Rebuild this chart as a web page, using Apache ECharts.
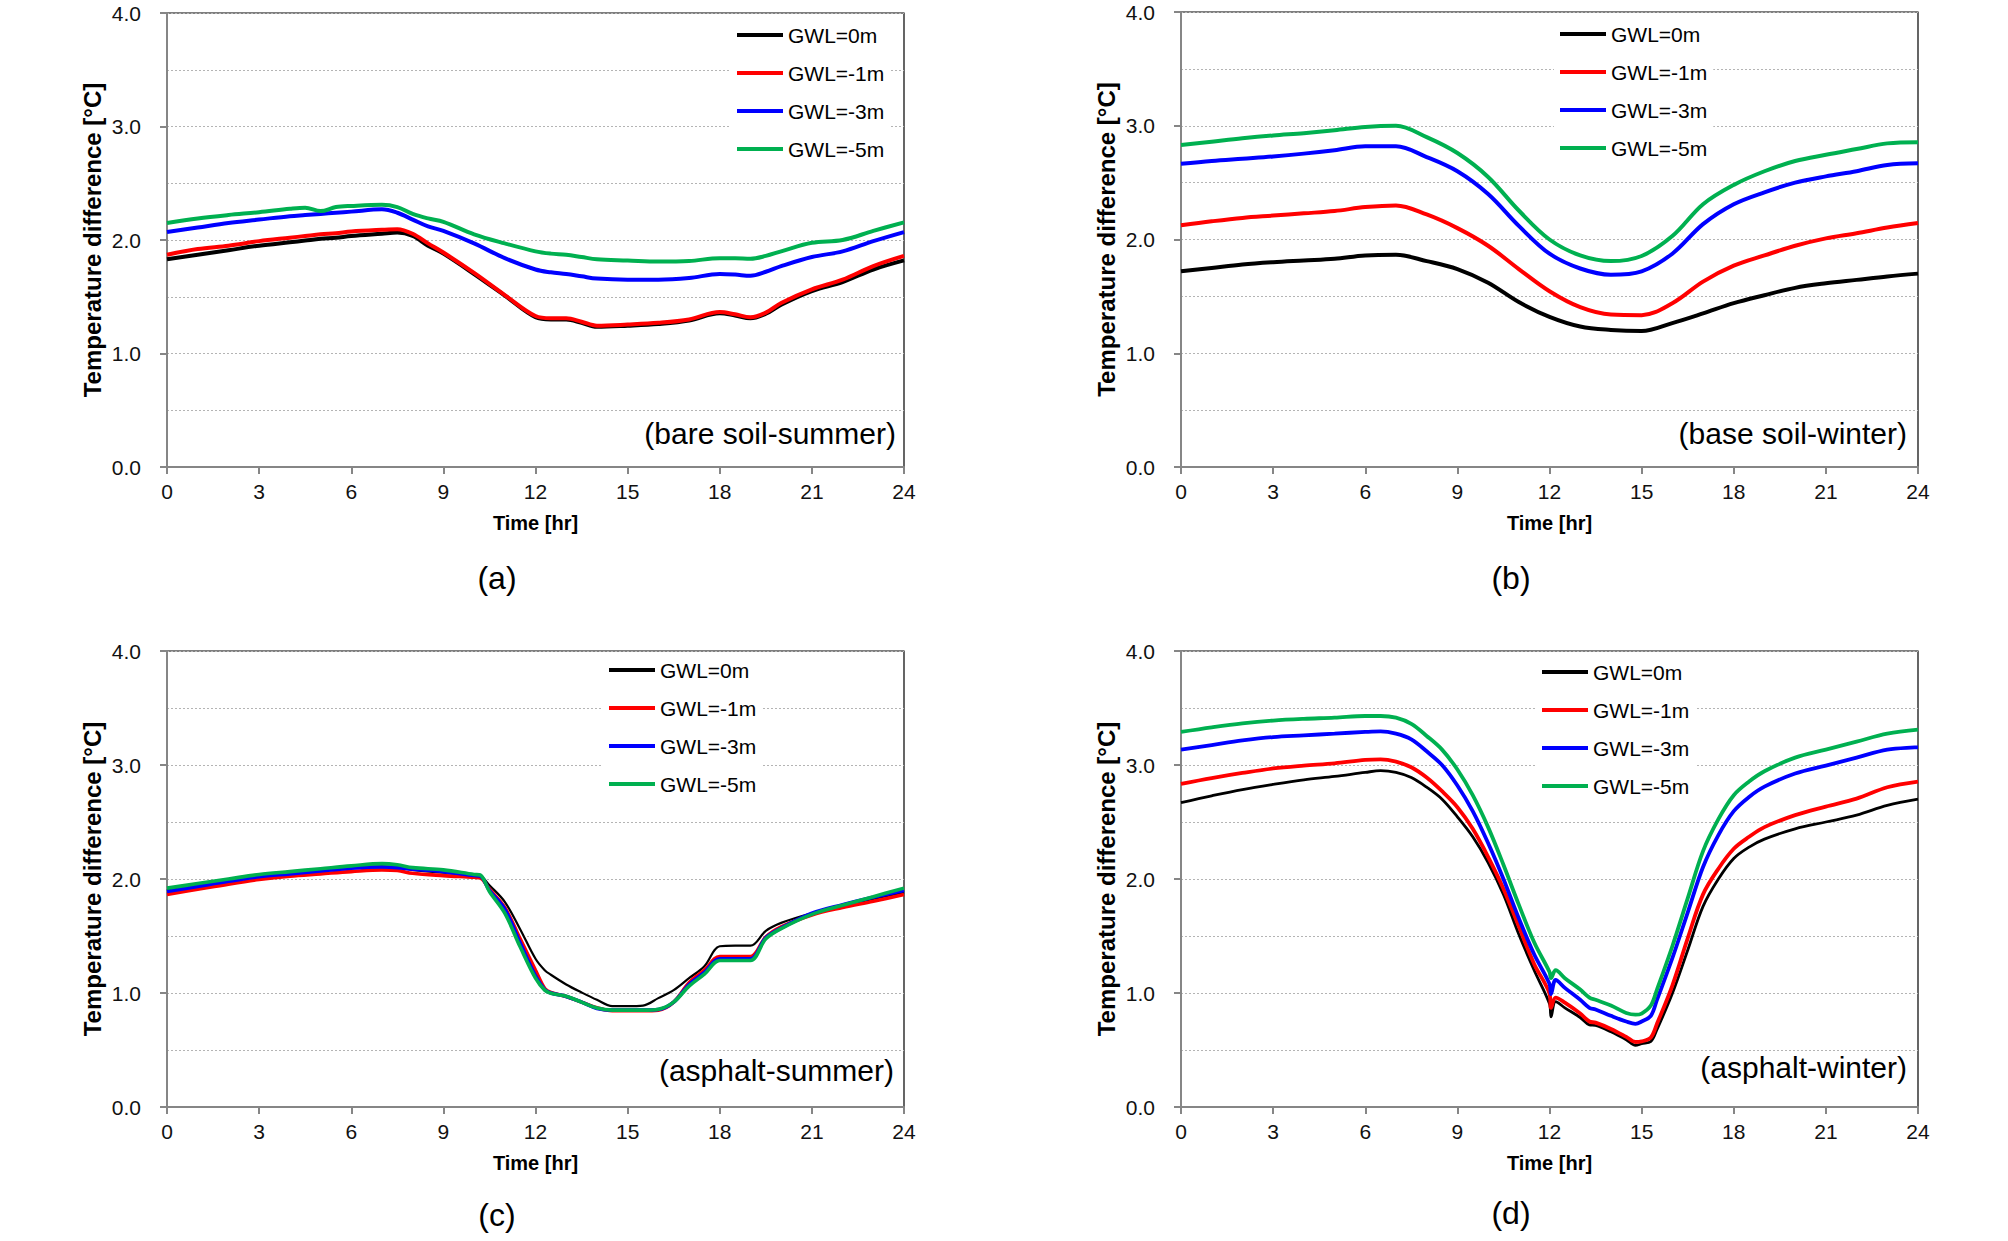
<!DOCTYPE html>
<html>
<head>
<meta charset="utf-8">
<script src="https://cdn.jsdelivr.net/npm/echarts@6/dist/echarts.min.js"></script>
<style>
  html, body { margin: 0; padding: 0; background: #fff; }
  #chart { width: 2008px; height: 1241px; }
</style>
</head>
<body>
<div id="chart"></div>
<script>
// legend names and colours
const gwlNames = ['GWL=0m', 'GWL=-1m', 'GWL=-3m', 'GWL=-5m'];
const lineColors = ['#000000', '#ff0000', '#0000ff', '#00b050'];

// (a) bare soil - summer
const timeA = [0, 1, 2, 3, 4, 4.5, 5, 5.5, 6, 7, 7.5, 8, 8.5, 9, 10, 11, 12, 12.5, 13, 13.5, 14, 15, 16, 17, 18, 18.5, 19, 19.5, 20, 21, 22, 23, 24];
const aGwl0 = [1.83, 1.87, 1.91, 1.95, 1.98, 1.995, 2.01, 2.02, 2.035, 2.055, 2.065, 2.035, 1.95, 1.88, 1.70, 1.51, 1.32, 1.30, 1.30, 1.27, 1.235, 1.245, 1.26, 1.29, 1.355, 1.335, 1.31, 1.35, 1.43, 1.55, 1.63, 1.74, 1.82];
const aGwl1 = [1.87, 1.92, 1.95, 1.99, 2.02, 2.035, 2.05, 2.06, 2.075, 2.09, 2.095, 2.055, 1.97, 1.89, 1.71, 1.515, 1.33, 1.31, 1.31, 1.28, 1.245, 1.255, 1.27, 1.30, 1.365, 1.345, 1.32, 1.36, 1.445, 1.565, 1.65, 1.77, 1.86];
const aGwl3 = [2.07, 2.11, 2.15, 2.18, 2.21, 2.22, 2.23, 2.24, 2.25, 2.27, 2.24, 2.18, 2.12, 2.08, 1.97, 1.84, 1.74, 1.715, 1.70, 1.68, 1.66, 1.65, 1.65, 1.665, 1.70, 1.695, 1.685, 1.72, 1.77, 1.85, 1.90, 1.99, 2.07];
const aGwl5 = [2.15, 2.19, 2.22, 2.245, 2.275, 2.285, 2.255, 2.29, 2.30, 2.31, 2.29, 2.23, 2.19, 2.16, 2.05, 1.97, 1.90, 1.88, 1.87, 1.85, 1.83, 1.82, 1.81, 1.815, 1.84, 1.84, 1.835, 1.86, 1.90, 1.975, 2.00, 2.08, 2.155];

// (b) base soil - winter
const timeB = [0, 1, 2, 3, 4, 5, 6, 7, 8, 9, 10, 11, 12, 13, 14, 15, 16, 17, 18, 19, 20, 21, 22, 23, 24];
const bGwl0 = [1.72, 1.75, 1.78, 1.80, 1.815, 1.83, 1.86, 1.865, 1.81, 1.74, 1.62, 1.45, 1.32, 1.235, 1.205, 1.195, 1.265, 1.35, 1.44, 1.51, 1.575, 1.615, 1.645, 1.675, 1.70];
const bGwl1 = [2.125, 2.16, 2.19, 2.21, 2.23, 2.25, 2.285, 2.30, 2.22, 2.10, 1.945, 1.74, 1.545, 1.405, 1.34, 1.335, 1.44, 1.63, 1.77, 1.86, 1.945, 2.01, 2.055, 2.105, 2.145];
const bGwl3 = [2.665, 2.69, 2.71, 2.73, 2.755, 2.785, 2.82, 2.82, 2.725, 2.60, 2.40, 2.12, 1.875, 1.745, 1.69, 1.72, 1.875, 2.135, 2.31, 2.415, 2.50, 2.555, 2.60, 2.655, 2.67];
const bGwl5 = [2.83, 2.86, 2.89, 2.915, 2.935, 2.96, 2.99, 3.00, 2.90, 2.76, 2.55, 2.255, 2.00, 1.86, 1.81, 1.855, 2.03, 2.31, 2.48, 2.60, 2.69, 2.745, 2.795, 2.845, 2.855];

// (c) asphalt - summer
const timeC = [0, 1, 2, 3, 4, 5, 6, 7, 7.5, 8, 9, 10, 10.2, 10.5, 11, 11.5, 12, 12.3, 12.5, 13, 13.5, 14, 14.5, 15, 15.5, 16, 16.5, 17, 17.5, 18, 18.5, 19, 19.5, 20, 21, 22, 23, 24];
const cGwl0 = [1.90, 1.945, 1.99, 2.03, 2.055, 2.075, 2.095, 2.11, 2.10, 2.08, 2.055, 2.03, 2.025, 1.945, 1.80, 1.56, 1.30, 1.20, 1.16, 1.075, 1.005, 0.94, 0.885, 0.885, 0.89, 0.955, 1.025, 1.13, 1.235, 1.41, 1.415, 1.415, 1.545, 1.615, 1.70, 1.76, 1.825, 1.88];
const cGwl1 = [1.865, 1.91, 1.955, 1.995, 2.025, 2.045, 2.065, 2.08, 2.075, 2.05, 2.03, 2.015, 2.01, 1.91, 1.75, 1.475, 1.20, 1.04, 1.005, 0.97, 0.92, 0.87, 0.845, 0.845, 0.845, 0.85, 0.92, 1.09, 1.20, 1.32, 1.32, 1.32, 1.49, 1.58, 1.685, 1.75, 1.805, 1.865];
const cGwl3 = [1.89, 1.935, 1.98, 2.02, 2.045, 2.07, 2.095, 2.105, 2.10, 2.085, 2.065, 2.03, 2.025, 1.90, 1.735, 1.44, 1.15, 1.03, 1.00, 0.97, 0.92, 0.865, 0.85, 0.85, 0.85, 0.855, 0.92, 1.075, 1.18, 1.30, 1.30, 1.30, 1.485, 1.57, 1.70, 1.775, 1.84, 1.90];
const cGwl5 = [1.92, 1.96, 2.00, 2.04, 2.065, 2.09, 2.115, 2.135, 2.125, 2.10, 2.08, 2.04, 2.035, 1.89, 1.70, 1.405, 1.13, 1.025, 0.998, 0.972, 0.92, 0.868, 0.85, 0.85, 0.85, 0.858, 0.92, 1.06, 1.165, 1.285, 1.285, 1.285, 1.475, 1.565, 1.69, 1.77, 1.845, 1.92];

// (d) asphalt - winter
const timeD = [0, 1, 2, 3, 4, 5, 6, 6.5, 7, 7.5, 8, 8.5, 9, 9.5, 10, 10.5, 11, 11.5, 12, 12.05, 12.2, 12.5, 13, 13.3, 13.5, 14, 14.5, 14.8, 15, 15.3, 15.5, 16, 16.5, 17, 17.5, 18, 18.5, 19, 20, 21, 22, 23, 24];
const dGwl0 = [2.67, 2.73, 2.785, 2.83, 2.87, 2.90, 2.935, 2.95, 2.935, 2.89, 2.805, 2.70, 2.545, 2.37, 2.145, 1.865, 1.515, 1.20, 0.905, 0.79, 0.925, 0.87, 0.785, 0.72, 0.715, 0.66, 0.59, 0.54, 0.555, 0.575, 0.68, 0.995, 1.375, 1.76, 2.00, 2.18, 2.28, 2.35, 2.44, 2.50, 2.56, 2.645, 2.70];
const dGwl1 = [2.835, 2.885, 2.93, 2.97, 2.995, 3.015, 3.045, 3.05, 3.03, 2.98, 2.89, 2.77, 2.63, 2.44, 2.195, 1.915, 1.585, 1.255, 0.995, 0.87, 0.96, 0.915, 0.82, 0.75, 0.74, 0.685, 0.615, 0.57, 0.575, 0.61, 0.73, 1.065, 1.48, 1.865, 2.09, 2.265, 2.37, 2.455, 2.56, 2.635, 2.705, 2.805, 2.855];
const dGwl3 = [3.135, 3.175, 3.215, 3.245, 3.26, 3.275, 3.29, 3.295, 3.275, 3.225, 3.12, 3.00, 2.82, 2.595, 2.315, 2.00, 1.655, 1.34, 1.08, 0.99, 1.115, 1.045, 0.94, 0.87, 0.855, 0.80, 0.75, 0.73, 0.75, 0.80, 0.94, 1.305, 1.705, 2.105, 2.385, 2.595, 2.72, 2.81, 2.925, 2.995, 3.065, 3.135, 3.155];
const dGwl5 = [3.29, 3.33, 3.365, 3.39, 3.405, 3.415, 3.43, 3.43, 3.415, 3.36, 3.255, 3.135, 2.96, 2.735, 2.455, 2.125, 1.775, 1.445, 1.185, 1.13, 1.20, 1.13, 1.03, 0.96, 0.94, 0.89, 0.825, 0.81, 0.82, 0.89, 1.03, 1.41, 1.83, 2.245, 2.525, 2.735, 2.855, 2.945, 3.065, 3.135, 3.205, 3.275, 3.31];

const panels = [
    { time: timeA, values: [aGwl0, aGwl1, aGwl3, aGwl5], widths: [4, 4, 4, 4], note: '(bare soil-summer)', tag: '(a)',
      grid: { left: 167, top: 13, width: 737, height: 454 }, legend: { left: 731, top: 21 }, noteAt: [896, 433], tagAt: [497, 578] },
    { time: timeB, values: [bGwl0, bGwl1, bGwl3, bGwl5], widths: [4, 4, 4, 4], note: '(base soil-winter)', tag: '(b)',
      grid: { left: 1181, top: 12, width: 737, height: 455 }, legend: { left: 1554, top: 20 }, noteAt: [1907, 433], tagAt: [1511, 578] },
    { time: timeC, values: [cGwl0, cGwl1, cGwl3, cGwl5], widths: [2.2, 3.6, 3.6, 3.6], note: '(asphalt-summer)', tag: '(c)',
      grid: { left: 167, top: 651, width: 737, height: 456 }, legend: { left: 603, top: 656 }, noteAt: [894, 1070], tagAt: [497, 1215] },
    { time: timeD, values: [dGwl0, dGwl1, dGwl3, dGwl5], widths: [2.8, 3.8, 3.8, 3.8], note: '(asphalt-winter)', tag: '(d)',
      grid: { left: 1181, top: 651, width: 737, height: 456 }, legend: { left: 1536, top: 658 }, noteAt: [1907, 1067], tagAt: [1511, 1213] }
];

const fontFamily = 'Liberation Sans, Arial, sans-serif';
const axisGrey = '#868686';
const gridDots = { show: true, lineStyle: { color: '#b4b4b4', type: [2, 2], width: 1 } };

const grids = [], xAxes = [], yAxes = [], legends = [], series = [], graphics = [];

panels.forEach((p, k) => {
    grids.push(Object.assign({ show: true, borderColor: '#000', borderWidth: 1.2, backgroundColor: '#fff' }, p.grid));
    xAxes.push({
        gridIndex: k, type: 'value', min: 0, max: 24, interval: 3,
        name: 'Time [hr]', nameLocation: 'middle', nameGap: 46,
        nameTextStyle: { fontFamily, fontSize: 20, fontWeight: 'bold', color: '#000' },
        axisLine: { lineStyle: { color: axisGrey, width: 2 } },
        axisTick: { inside: false, length: 7, lineStyle: { color: axisGrey, width: 2 } },
        axisLabel: { margin: 14, fontFamily, fontSize: 21, color: '#111' },
        splitLine: { show: false }
    });
    yAxes.push({
        gridIndex: k, type: 'value', min: 0, max: 4, interval: 1,
        name: 'Temperature difference [°C]', nameLocation: 'middle', nameGap: 63,
        nameTextStyle: { fontFamily, fontSize: 24, fontWeight: 'bold', color: '#000' },
        axisLine: { show: true, lineStyle: { color: axisGrey, width: 2 } },
        axisTick: { show: true, length: 7, lineStyle: { color: axisGrey, width: 2 } },
        axisLabel: { margin: 26, fontFamily, fontSize: 21, color: '#111', formatter: v => v.toFixed(1) },
        splitLine: gridDots,
        minorTick: { show: false, splitNumber: 2 },
        minorSplitLine: gridDots
    });
    legends.push({
        orient: 'vertical', left: p.legend.left, top: p.legend.top,
        padding: [3, 6], itemGap: 16, itemWidth: 46, itemHeight: 4,
        backgroundColor: '#fff', selectedMode: false,
        textStyle: { fontFamily, fontSize: 21, lineHeight: 22, color: '#000' },
        data: gwlNames.map((n, i) => ({ name: n, icon: 'rect', itemStyle: { color: lineColors[i] } })),
        icon: 'rect'
    });
    p.values.forEach((vals, i) => {
        series.push({
            name: gwlNames[i], type: 'line', xAxisIndex: k, yAxisIndex: k,
            data: p.time.map((t, j) => [t, vals[j]]),
            showSymbol: false, symbol: 'none', smooth: 0.35,
            lineStyle: { color: lineColors[i], width: p.widths[i] },
            itemStyle: { color: lineColors[i] },
            animation: false, z: 3 + i
        });
    });
    graphics.push({
        type: 'text', x: p.noteAt[0], y: p.noteAt[1], z: 100,
        style: { text: p.note, fill: '#000', font: '30px ' + fontFamily, textAlign: 'right', textVerticalAlign: 'middle' }
    });
    graphics.push({
        type: 'text', x: p.tagAt[0], y: p.tagAt[1], z: 100,
        style: { text: p.tag, fill: '#000', font: '32px ' + fontFamily, textAlign: 'center', textVerticalAlign: 'middle' }
    });
});

const option = {
    backgroundColor: '#fff',
    animation: false,
    grid: grids,
    xAxis: xAxes,
    yAxis: yAxes,
    legend: legends,
    series: series,
    graphic: graphics
};

const myChart = echarts.init(document.getElementById('chart'), null, { renderer: 'svg' });
myChart.setOption(option);
</script>
</body>
</html>
